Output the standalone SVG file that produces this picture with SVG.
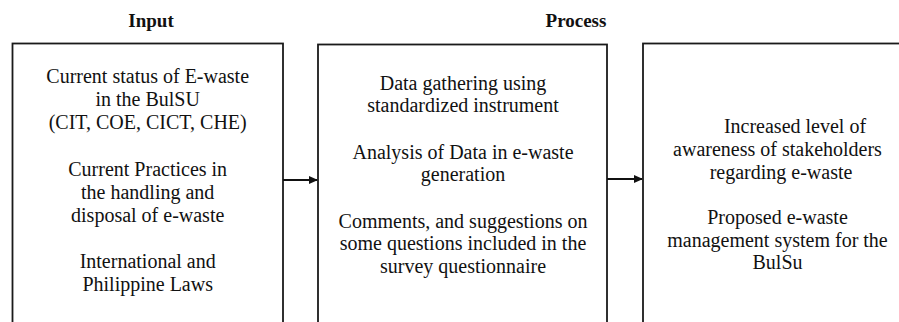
<svg xmlns="http://www.w3.org/2000/svg" width="899" height="322" viewBox="0 0 899 322">
<style>
  .box { fill: #ffffff; stroke: #1a1a1a; stroke-width: 1.8; }
  .t { font-family: "Liberation Serif", "Times New Roman", serif; font-size: 20px; fill: #111; text-anchor: middle; }
  .h { font-family: "Liberation Serif", "Times New Roman", serif; font-size: 19px; font-weight: bold; fill: #111; text-anchor: middle; }
  .conn { stroke: #111; stroke-width: 1.8; fill: none; marker-end: url(#arr); }
</style>
<defs>
  <marker id="arr" markerWidth="10" markerHeight="10" refX="8" refY="4" orient="auto" markerUnits="userSpaceOnUse">
    <path d="M0,0 L9,4 L0,8 Z" fill="#111"/>
  </marker>
</defs>
<rect width="899" height="322" fill="#ffffff"/>
<text class="h" x="151" y="27">Input</text>
<text class="h" x="576" y="27">Process</text>

<g id="input">
  <rect class="box" x="12.5" y="43.5" width="270.5" height="300"/>
  <text class="t" x="147.7" y="83">Current status of E-waste</text>
  <text class="t" x="147.7" y="106">in the BulSU</text>
  <text class="t" x="147.7" y="129">(CIT, COE, CICT, CHE)</text>
  <text class="t" x="147.7" y="176">Current Practices in</text>
  <text class="t" x="147.7" y="199">the handling and</text>
  <text class="t" x="147.7" y="222">disposal of e-waste</text>
  <text class="t" x="147.7" y="268">International and</text>
  <text class="t" x="147.7" y="291">Philippine Laws</text>
</g>

<g id="process">
  <rect class="box" x="318" y="44.5" width="289" height="300"/>
  <text class="t" x="463" y="90">Data gathering using</text>
  <text class="t" x="463" y="112">standardized instrument</text>
  <text class="t" x="463" y="159">Analysis of Data in e-waste</text>
  <text class="t" x="463" y="181">generation</text>
  <text class="t" x="463" y="228">Comments, and suggestions on</text>
  <text class="t" x="463" y="250">some questions included in the</text>
  <text class="t" x="463" y="273">survey questionnaire</text>
</g>

<g id="output">
  <rect class="box" x="643" y="43.5" width="270" height="300"/>
  <text class="t" x="795" y="133">Increased level of</text>
  <text class="t" x="777.5" y="156">awareness of stakeholders</text>
  <text class="t" x="781" y="179">regarding e-waste</text>
  <text class="t" x="777.5" y="224">Proposed e-waste</text>
  <text class="t" x="777.5" y="247">management system for the</text>
  <text class="t" x="777.5" y="269">BulSu</text>
</g>

<g id="connectors">
  <line class="conn" x1="283" y1="180" x2="317" y2="180"/>
  <line class="conn" x1="607" y1="179" x2="642" y2="179"/>
</g>
</svg>
